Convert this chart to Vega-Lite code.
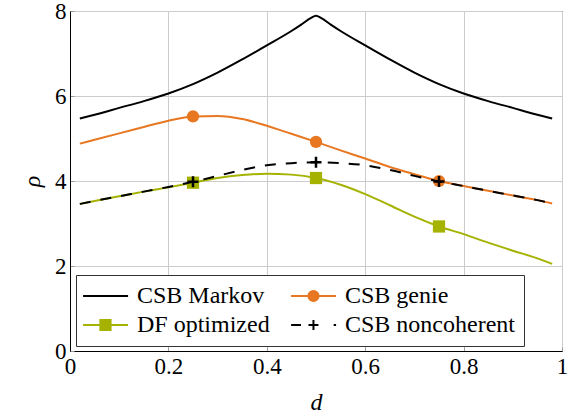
{
  "$schema": "https://vega.github.io/schema/vega-lite/v6.json",
  "width": 492,
  "height": 340,
  "autosize": {"type": "none"},
  "padding": {"left": 70, "top": 11, "right": 17, "bottom": 65},
  "config": {
    "font": "Liberation Serif, Times New Roman, DejaVu Serif, serif",
    "view": {"stroke": "black", "strokeWidth": 1},
    "axis": {
      "labelFont": "Liberation Serif, Times New Roman, DejaVu Serif, serif", "labelFontSize": 23, "labelColor": "black",
      "titleFont": "Liberation Serif, Times New Roman, DejaVu Serif, serif", "titleFontSize": 24, "titleFontStyle": "italic",
      "titleFontWeight": "normal", "titleColor": "black",
      "gridColor": "#cccccc", "gridWidth": 1, "domainColor": "black",
      "tickColor": "#999999", "tickSize": -4, "labelPadding": 8, "labelFlush": false
    },
    "axisX": {"titlePadding": 12},
    "axisY": {"titlePadding": 10},
    "legend": {
      "labelFont": "Liberation Serif, Times New Roman, DejaVu Serif, serif", "labelFontSize": 24, "labelColor": "black",
      "symbolSize": 144, "symbolStrokeWidth": 2, "labelOffset": 28,
      "columnPadding": 17, "rowPadding": 5, "padding": 9,
      "strokeColor": "#333333", "fillColor": "white", "columns": 2,
      "labelLimit": 400, "symbolOpacity": 1
    }
  },
  "datasets": {
    "curves": [
      {"s": "CSB Markov", "d": 0.02, "rho": 5.47}, {"s": "CSB Markov", "d": 0.05, "rho": 5.56},
      {"s": "CSB Markov", "d": 0.1, "rho": 5.72}, {"s": "CSB Markov", "d": 0.15, "rho": 5.88},
      {"s": "CSB Markov", "d": 0.2, "rho": 6.06}, {"s": "CSB Markov", "d": 0.25, "rho": 6.28},
      {"s": "CSB Markov", "d": 0.3, "rho": 6.55}, {"s": "CSB Markov", "d": 0.35, "rho": 6.86},
      {"s": "CSB Markov", "d": 0.4, "rho": 7.19}, {"s": "CSB Markov", "d": 0.45, "rho": 7.53},
      {"s": "CSB Markov", "d": 0.47, "rho": 7.68}, {"s": "CSB Markov", "d": 0.49, "rho": 7.84},
      {"s": "CSB Markov", "d": 0.5, "rho": 7.89}, {"s": "CSB Markov", "d": 0.51, "rho": 7.84},
      {"s": "CSB Markov", "d": 0.53, "rho": 7.68}, {"s": "CSB Markov", "d": 0.55, "rho": 7.53},
      {"s": "CSB Markov", "d": 0.6, "rho": 7.19}, {"s": "CSB Markov", "d": 0.65, "rho": 6.86},
      {"s": "CSB Markov", "d": 0.7, "rho": 6.55}, {"s": "CSB Markov", "d": 0.75, "rho": 6.28},
      {"s": "CSB Markov", "d": 0.8, "rho": 6.06}, {"s": "CSB Markov", "d": 0.85, "rho": 5.88},
      {"s": "CSB Markov", "d": 0.9, "rho": 5.72}, {"s": "CSB Markov", "d": 0.95, "rho": 5.56},
      {"s": "CSB Markov", "d": 0.98, "rho": 5.47},

      {"s": "CSB genie", "d": 0.02, "rho": 4.88}, {"s": "CSB genie", "d": 0.05, "rho": 4.97},
      {"s": "CSB genie", "d": 0.1, "rho": 5.12}, {"s": "CSB genie", "d": 0.15, "rho": 5.27},
      {"s": "CSB genie", "d": 0.2, "rho": 5.42}, {"s": "CSB genie", "d": 0.25, "rho": 5.52},
      {"s": "CSB genie", "d": 0.3, "rho": 5.53}, {"s": "CSB genie", "d": 0.35, "rho": 5.46},
      {"s": "CSB genie", "d": 0.4, "rho": 5.3}, {"s": "CSB genie", "d": 0.45, "rho": 5.11},
      {"s": "CSB genie", "d": 0.5, "rho": 4.92}, {"s": "CSB genie", "d": 0.55, "rho": 4.72},
      {"s": "CSB genie", "d": 0.6, "rho": 4.53}, {"s": "CSB genie", "d": 0.65, "rho": 4.33},
      {"s": "CSB genie", "d": 0.7, "rho": 4.16}, {"s": "CSB genie", "d": 0.75, "rho": 4.0},
      {"s": "CSB genie", "d": 0.8, "rho": 3.88}, {"s": "CSB genie", "d": 0.85, "rho": 3.77},
      {"s": "CSB genie", "d": 0.9, "rho": 3.66}, {"s": "CSB genie", "d": 0.95, "rho": 3.55},
      {"s": "CSB genie", "d": 0.98, "rho": 3.47},

      {"s": "DF optimized", "d": 0.02, "rho": 3.46}, {"s": "DF optimized", "d": 0.05, "rho": 3.53},
      {"s": "DF optimized", "d": 0.1, "rho": 3.64}, {"s": "DF optimized", "d": 0.15, "rho": 3.75},
      {"s": "DF optimized", "d": 0.2, "rho": 3.85}, {"s": "DF optimized", "d": 0.25, "rho": 3.96},
      {"s": "DF optimized", "d": 0.3, "rho": 4.07}, {"s": "DF optimized", "d": 0.35, "rho": 4.14},
      {"s": "DF optimized", "d": 0.4, "rho": 4.17}, {"s": "DF optimized", "d": 0.45, "rho": 4.15},
      {"s": "DF optimized", "d": 0.5, "rho": 4.07}, {"s": "DF optimized", "d": 0.55, "rho": 3.91},
      {"s": "DF optimized", "d": 0.6, "rho": 3.69}, {"s": "DF optimized", "d": 0.65, "rho": 3.43},
      {"s": "DF optimized", "d": 0.7, "rho": 3.16}, {"s": "DF optimized", "d": 0.75, "rho": 2.93},
      {"s": "DF optimized", "d": 0.8, "rho": 2.75}, {"s": "DF optimized", "d": 0.85, "rho": 2.55},
      {"s": "DF optimized", "d": 0.9, "rho": 2.36}, {"s": "DF optimized", "d": 0.95, "rho": 2.18},
      {"s": "DF optimized", "d": 0.98, "rho": 2.05},

      {"s": "CSB noncoherent", "d": 0.02, "rho": 3.46}, {"s": "CSB noncoherent", "d": 0.05, "rho": 3.53},
      {"s": "CSB noncoherent", "d": 0.1, "rho": 3.64}, {"s": "CSB noncoherent", "d": 0.15, "rho": 3.75},
      {"s": "CSB noncoherent", "d": 0.2, "rho": 3.86}, {"s": "CSB noncoherent", "d": 0.25, "rho": 3.98},
      {"s": "CSB noncoherent", "d": 0.3, "rho": 4.12}, {"s": "CSB noncoherent", "d": 0.35, "rho": 4.26},
      {"s": "CSB noncoherent", "d": 0.4, "rho": 4.37}, {"s": "CSB noncoherent", "d": 0.45, "rho": 4.42},
      {"s": "CSB noncoherent", "d": 0.5, "rho": 4.44}, {"s": "CSB noncoherent", "d": 0.55, "rho": 4.42},
      {"s": "CSB noncoherent", "d": 0.6, "rho": 4.37}, {"s": "CSB noncoherent", "d": 0.65, "rho": 4.26},
      {"s": "CSB noncoherent", "d": 0.7, "rho": 4.12}, {"s": "CSB noncoherent", "d": 0.75, "rho": 3.99},
      {"s": "CSB noncoherent", "d": 0.8, "rho": 3.88}, {"s": "CSB noncoherent", "d": 0.85, "rho": 3.77},
      {"s": "CSB noncoherent", "d": 0.9, "rho": 3.66}, {"s": "CSB noncoherent", "d": 0.95, "rho": 3.55},
      {"s": "CSB noncoherent", "d": 0.98, "rho": 3.47}
    ],
    "markers": [
      {"s": "CSB genie", "d": 0.25, "rho": 5.52}, {"s": "CSB genie", "d": 0.5, "rho": 4.92}, {"s": "CSB genie", "d": 0.75, "rho": 4.0},
      {"s": "DF optimized", "d": 0.25, "rho": 3.96}, {"s": "DF optimized", "d": 0.5, "rho": 4.07}, {"s": "DF optimized", "d": 0.75, "rho": 2.93},
      {"s": "CSB noncoherent", "d": 0.25, "rho": 3.98}, {"s": "CSB noncoherent", "d": 0.5, "rho": 4.44}, {"s": "CSB noncoherent", "d": 0.75, "rho": 3.99}
    ]
  },
  "encoding": {
    "x": {"field": "d", "type": "quantitative", "scale": {"domain": [0, 1], "nice": false},
      "axis": {"values": [0, 0.2, 0.4, 0.6, 0.8, 1], "format": "~g", "title": "d"}},
    "y": {"field": "rho", "type": "quantitative", "scale": {"domain": [0, 8], "nice": false},
      "axis": {"values": [0, 2, 4, 6, 8], "format": "~g", "title": "ρ"}}
  },
  "layer": [
    {
      "data": {"name": "curves"},
      "mark": {"type": "point", "opacity": 0, "filled": true},
      "encoding": {
        "fill": {"field": "s", "type": "nominal",
          "scale": {"domain": ["CSB Markov", "DF optimized", "CSB genie", "CSB noncoherent"], "range": ["black", "#A5B300", "#E87722", "black"]},
          "legend": {"title": null, "orient": "none", "legendX": 6, "legendY": 264, "columns": 2}},
        "stroke": {"field": "s", "type": "nominal",
          "scale": {"domain": ["CSB Markov", "DF optimized", "CSB genie", "CSB noncoherent"], "range": ["black", "#A5B300", "#E87722", "black"]},
          "legend": {"title": null, "orient": "none", "legendX": 6, "legendY": 264, "columns": 2}},
        "shape": {"field": "s", "type": "nominal",
          "scale": {"domain": ["CSB Markov", "DF optimized", "CSB genie", "CSB noncoherent"],
            "range": [
              "M-2.32,0H5.18",
              "M-2.32,0H5.18M0.56,-0.85H2.26V0.85H0.56Z",
              "M-2.32,0H5.18M0.56,0A0.85,0.85,0,1,0,2.26,0A0.85,0.85,0,1,0,0.56,0Z",
              "M-2.32,0H-0.67M0.58,0H2.24M1.41,-0.85V0.85M4.78,0H5.18"
            ]},
          "legend": {"title": null, "orient": "none", "legendX": 6, "legendY": 264, "columns": 2}}
      }
    },
    {
      "data": {"name": "curves"},
      "transform": [{"filter": "datum.s === 'CSB Markov'"}],
      "mark": {"type": "line", "interpolate": "monotone", "strokeWidth": 2, "color": "black"}
    },
    {
      "data": {"name": "curves"},
      "transform": [{"filter": "datum.s === 'CSB genie'"}],
      "mark": {"type": "line", "interpolate": "monotone", "strokeWidth": 2, "color": "#E87722"}
    },
    {
      "data": {"name": "markers"},
      "transform": [{"filter": "datum.s === 'CSB genie'"}],
      "mark": {"type": "point", "shape": "circle", "filled": true, "size": 150, "opacity": 1, "color": "#E87722"}
    },
    {
      "data": {"name": "curves"},
      "transform": [{"filter": "datum.s === 'DF optimized'"}],
      "mark": {"type": "line", "interpolate": "monotone", "strokeWidth": 2, "color": "#A5B300"}
    },
    {
      "data": {"name": "markers"},
      "transform": [{"filter": "datum.s === 'DF optimized'"}],
      "mark": {"type": "point", "shape": "square", "filled": true, "size": 150, "opacity": 1, "color": "#A5B300"}
    },
    {
      "data": {"name": "curves"},
      "transform": [{"filter": "datum.s === 'CSB noncoherent'"}],
      "mark": {"type": "line", "interpolate": "monotone", "strokeWidth": 2, "color": "black", "strokeDash": [11, 10]}
    },
    {
      "data": {"name": "markers"},
      "transform": [{"filter": "datum.s === 'CSB noncoherent'"}],
      "mark": {"type": "point", "shape": "M-1,0H1M0,-1V1", "filled": false, "size": 121, "opacity": 1, "color": "black", "strokeWidth": 2.5}
    }
  ]
}
